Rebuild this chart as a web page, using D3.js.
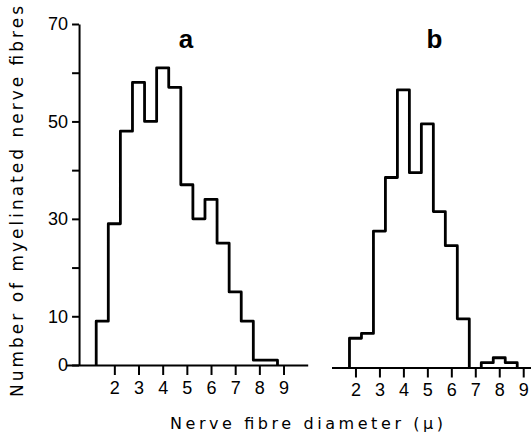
<!DOCTYPE html>
<html>
<head>
<meta charset="utf-8">
<script src="https://cdn.jsdelivr.net/npm/d3@7"></script>
<style>
  html, body { margin: 0; padding: 0; background: #fff; }
  svg { display: block; }
  text { font-family: "Liberation Sans", Arial, sans-serif; fill: #000; }
</style>
</head>
<body>
<svg id="chart" width="531" height="440"></svg>
<script>
// ---- data ----
const panelLabels = ["a", "b"];
const xTickValues = [2, 3, 4, 5, 6, 7, 8, 9];
const yTickValues = [0, 10, 20, 30, 40, 50, 60, 70];
const yTickLabels = ["0", "10", "", "30", "", "50", "", "70"];
const binWidth = 0.5;

// panel a: bin centres (micron) and counts
const diamA  = [1.5, 2, 2.5, 3, 3.5, 4, 4.5, 5, 5.5, 6, 6.5, 7, 7.5, 8, 8.5];
const countA = [9, 29, 48, 58, 50, 61, 57, 37, 30, 34, 25, 15, 9, 1, 1];

// panel b: bin centres and counts (two separate groups)
const diamB  = [2, 2.5, 3, 3.5, 4, 4.5, 5, 5.5, 6, 6.5, 7.5, 8, 8.5];
const countB = [6, 7, 28, 39, 57, 40, 50, 32, 25, 10, 1, 2, 1];

const xTitle = "Nerve fibre diameter (\u03bc)";
const yTitle = "Number of myelinated nerve fibres";

// ---- drawing ----
const svg = d3.select("#chart");

const xA = d3.scaleLinear().domain([0, 10]).range([66, 307.7]);
const yA = d3.scaleLinear().domain([0, 70]).range([365, 24]);
const xB = d3.scaleLinear().domain([1, 9.35]).range([331.5, 531.6]);
const yB = d3.scaleLinear().domain([0, 70]).range([367.5, 26.5]);

function runs(diams, counts) {
  const out = [];
  let cur = [];
  diams.forEach((d, i) => {
    if (cur.length && Math.abs(d - cur[cur.length - 1].d - binWidth) > 1e-6) {
      out.push(cur); cur = [];
    }
    cur.push({ d: d, c: counts[i] });
  });
  if (cur.length) out.push(cur);
  return out;
}

function outline(run, x, y) {
  const pts = [];
  const h = binWidth / 2;
  pts.push([x(run[0].d - h), y(0)]);
  run.forEach(b => {
    pts.push([x(b.d - h), y(b.c)]);
    pts.push([x(b.d + h), y(b.c)]);
  });
  pts.push([x(run[run.length - 1].d + h), y(0)]);
  return d3.line()(pts);
}

function drawPanel(x, y, diams, counts) {
  const g = svg.append("g");
  const ax = g.append("g")
    .attr("transform", `translate(0,${y(0)})`)
    .call(d3.axisBottom(x).tickValues(xTickValues).tickSize(10).tickSizeOuter(0).tickPadding(6).tickFormat(d3.format("d")));
  ax.select(".domain").attr("stroke-width", 2.2);
  ax.selectAll(".tick line").attr("stroke-width", 2);
  ax.selectAll(".tick text").style("font-size", "18px").style("font-family", "Liberation Sans, Arial, sans-serif");

  runs(diams, counts).forEach(run => {
    g.append("path")
      .attr("d", outline(run, x, y))
      .attr("fill", "none")
      .attr("stroke", "#000")
      .attr("stroke-width", 2.8)
      .attr("stroke-linejoin", "round");
  });
  return g;
}

drawPanel(xA, yA, diamA, countA);
drawPanel(xB, yB, diamB, countB);

// y axis for panel a
const yAxisG = svg.append("g")
  .attr("transform", `translate(${xA(0.54)},0)`)
  .call(d3.axisLeft(yA).tickValues(yTickValues).tickSize(7).tickSizeOuter(0).tickPadding(4)
    .tickFormat((d, i) => yTickLabels[i]));
yAxisG.select(".domain").attr("stroke-width", 2);
yAxisG.selectAll(".tick line").attr("stroke-width", 2);
yAxisG.selectAll(".tick text").style("font-size", "18px").style("font-family", "Liberation Sans, Arial, sans-serif");

// panel labels
svg.append("text")
  .attr("x", xA(4.96)).attr("y", 48)
  .attr("text-anchor", "middle")
  .style("font-size", "26px").style("font-weight", "bold")
  .text(panelLabels[0]);
svg.append("text")
  .attr("x", xB(5.3)).attr("y", 48)
  .attr("text-anchor", "middle")
  .style("font-size", "26px").style("font-weight", "bold")
  .text(panelLabels[1]);

// axis titles
svg.append("text")
  .attr("x", 170).attr("y", 429)
  .attr("textLength", 273).attr("lengthAdjust", "spacing")
  .style("font-size", "16px").style("font-family", "DejaVu Sans, sans-serif")
  .text(xTitle);

svg.append("text")
  .attr("transform", "translate(23,397) rotate(-90)")
  .attr("x", 0).attr("y", 0)
  .attr("textLength", 391).attr("lengthAdjust", "spacing")
  .style("font-size", "17px").style("font-family", "DejaVu Sans, sans-serif")
  .text(yTitle);
</script>
</body>
</html>
